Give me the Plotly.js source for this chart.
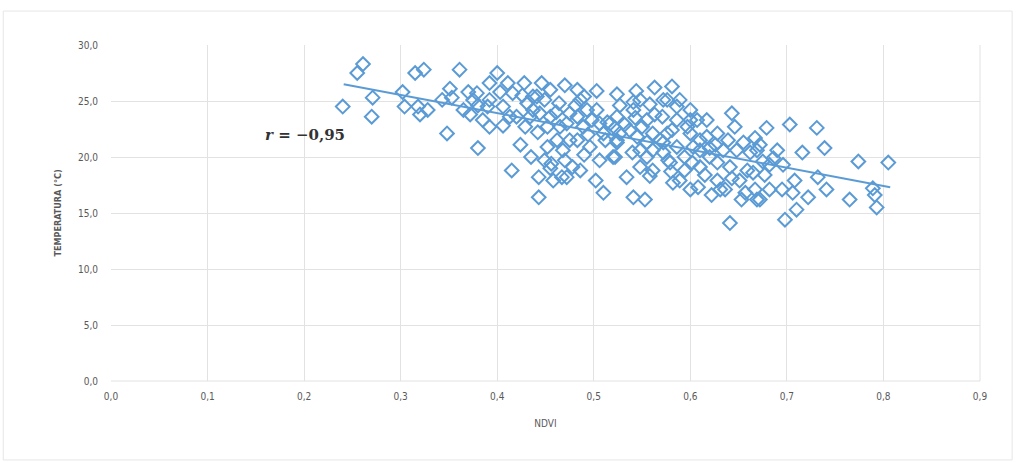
<!DOCTYPE html>
<html>
<head>
<meta charset="utf-8">
<script src="https://cdn.plot.ly/plotly-3.0.1.min.js"></script>
<style>
  html, body { margin: 0; padding: 0; background: #ffffff; }
  #chart { width: 1016px; height: 462px; }
</style>
</head>
<body>
<div id="chart"></div>
<script>
// NDVI values (x)
const ndvi = [
  0.261, 0.255, 0.240, 0.271, 0.270, 0.315, 0.324, 0.361, 0.302, 0.304,
  0.318, 0.320, 0.328, 0.348, 0.343, 0.351, 0.353, 0.370, 0.365, 0.372,
  0.380, 0.380, 0.400, 0.392, 0.403, 0.411, 0.428, 0.446, 0.379, 0.385,
  0.406, 0.424, 0.415, 0.435, 0.443, 0.443, 0.434, 0.390, 0.406, 0.420,
  0.431, 0.464, 0.470, 0.490, 0.503, 0.524, 0.544, 0.563, 0.581, 0.452,
  0.462, 0.472, 0.483, 0.456, 0.458, 0.472, 0.478, 0.490, 0.496, 0.506,
  0.502, 0.510, 0.520, 0.514, 0.527, 0.541, 0.558, 0.534, 0.541, 0.553,
  0.548, 0.558, 0.561, 0.576, 0.582, 0.580, 0.576, 0.506, 0.527, 0.545,
  0.483, 0.468, 0.442, 0.475, 0.486, 0.503, 0.517, 0.475, 0.489, 0.455,
  0.467, 0.455, 0.589, 0.541, 0.524, 0.555, 0.571, 0.586, 0.600, 0.617,
  0.643, 0.646, 0.537, 0.561, 0.581, 0.600, 0.610, 0.628, 0.639, 0.655,
  0.667, 0.522, 0.540, 0.555, 0.572, 0.586, 0.594, 0.620, 0.634, 0.648,
  0.662, 0.561, 0.594, 0.610, 0.628, 0.641, 0.659, 0.608, 0.628, 0.643,
  0.631, 0.657, 0.669, 0.641, 0.679, 0.703, 0.731, 0.669, 0.690, 0.716,
  0.739, 0.774, 0.805, 0.675, 0.686, 0.696, 0.665, 0.677, 0.708, 0.732,
  0.667, 0.682, 0.695, 0.706, 0.722, 0.741, 0.672, 0.765, 0.789, 0.791,
  0.793, 0.710, 0.698, 0.375, 0.392, 0.416, 0.441, 0.455, 0.483, 0.493,
  0.510, 0.524, 0.452, 0.437, 0.465, 0.429, 0.413, 0.392, 0.548, 0.572,
  0.550, 0.555, 0.572, 0.603, 0.524, 0.586, 0.597, 0.607, 0.617, 0.620,
  0.602, 0.579, 0.437, 0.444, 0.426, 0.449, 0.461, 0.481, 0.498, 0.512,
  0.532, 0.548, 0.569, 0.577, 0.589, 0.600, 0.615, 0.622, 0.636, 0.651,
  0.653, 0.672, 0.682, 0.543, 0.522, 0.494, 0.470, 0.486, 0.449, 0.610,
  0.626, 0.600, 0.563
];
// Temperature values (y, °C)
const temperatura = [
  28.3, 27.5, 24.5, 25.3, 23.6, 27.5, 27.8, 27.8, 25.8, 24.5,
  24.5, 23.8, 24.2, 22.1, 25.1, 26.1, 25.3, 25.8, 24.2, 23.8,
  20.8, 24.6, 27.5, 26.6, 25.8, 26.6, 26.6, 26.6, 25.7, 23.3,
  22.8, 21.1, 18.8, 20.0, 18.2, 16.4, 23.6, 24.5, 24.5, 23.6,
  24.8, 24.8, 26.4, 25.4, 25.9, 25.6, 25.9, 26.2, 26.3, 22.7,
  21.5, 23.0, 23.6, 19.4, 17.9, 18.2, 19.1, 20.2, 20.9, 19.7,
  17.9, 16.8, 20.0, 23.1, 24.6, 24.9, 24.7, 18.2, 16.4, 16.2,
  19.1, 18.3, 20.6, 22.1, 17.7, 18.7, 25.1, 23.0, 22.1, 21.8,
  21.5, 20.6, 22.2, 23.9, 25.1, 24.2, 23.0, 21.5, 22.7, 23.6,
  18.2, 19.0, 25.1, 24.2, 23.6, 23.3, 23.6, 23.3, 24.2, 23.3,
  23.9, 22.7, 22.4, 22.1, 22.4, 22.1, 21.5, 22.1, 21.5, 21.3,
  21.7, 20.0, 20.4, 20.0, 20.4, 20.9, 20.0, 20.8, 20.6, 20.6,
  20.4, 18.8, 18.8, 19.1, 19.5, 19.1, 18.8, 17.3, 17.9, 18.1,
  17.1, 16.8, 16.2, 14.1, 22.6, 22.9, 22.6, 20.6, 20.6, 20.4,
  20.8, 19.6, 19.5, 19.6, 19.9, 19.3, 18.6, 18.4, 17.9, 18.2,
  17.1, 17.1, 17.1, 16.8, 16.4, 17.1, 16.2, 16.2, 17.2, 16.6,
  15.5, 15.3, 14.4, 25.1, 25.1, 25.7, 25.4, 26.0, 26.0, 24.2,
  22.1, 21.5, 20.9, 24.2, 22.7, 22.7, 23.6, 22.7, 25.1, 25.1,
  22.7, 21.3, 21.3, 20.9, 21.3, 24.5, 22.7, 23.3, 21.8, 20.0,
  19.5, 19.5, 25.4, 23.9, 25.5, 25.1, 24.0, 24.6, 23.3, 21.5,
  22.9, 20.6, 21.5, 19.7, 17.9, 17.1, 18.4, 16.6, 17.1, 17.9,
  16.2, 21.1, 19.3, 23.5, 22.6, 22.0, 19.7, 18.8, 19.7, 20.6,
  21.1, 23.3, 23.8
];
// Linear trend line end points
const trendNdvi = [0.241, 0.807];
const trendTemp = [26.5, 17.3];

const xTicks = [0, 0.1, 0.2, 0.3, 0.4, 0.5, 0.6, 0.7, 0.8, 0.9];
const yTicks = [0, 5, 10, 15, 20, 25, 30];
const xTitle = 'NDVI';
const yTitle = 'TEMPERATURA (°C)';
const corrText = '<i>r</i> = −0,95';

const blue = '#5b9bd5';
const tickFont = {family: 'Liberation Sans Narrow, DejaVu Sans Condensed, Arial, sans-serif', size: 10, color: '#595959'};

const traces = [
  {
    x: ndvi, y: temperatura, type: 'scatter', mode: 'markers',
    marker: {symbol: 'diamond-open', size: 10.5, color: blue, line: {width: 2, color: blue}},
    hoverinfo: 'x+y', showlegend: false
  },
  {
    x: trendNdvi, y: trendTemp, type: 'scatter', mode: 'lines',
    line: {color: blue, width: 2}, hoverinfo: 'skip', showlegend: false
  }
];

const gridColor = '#e2e2e2';
const layout = {
  width: 1016, height: 462,
  margin: {l: 111, r: 36, t: 45, b: 81},
  paper_bgcolor: '#ffffff',
  plot_bgcolor: '#ffffff',
  separators: ',.',
  xaxis: {
    range: [0, 0.9], tickvals: xTicks, tickformat: '.1f',
    showgrid: true, gridcolor: gridColor, gridwidth: 1,
    zeroline: false, showline: false, ticks: '',
    tickfont: tickFont, ticklabelstandoff: 8,
    title: {text: xTitle, font: {family: tickFont.family, size: 10, color: '#595959'}, standoff: 18},
    fixedrange: true
  },
  yaxis: {
    range: [0, 30], tickvals: yTicks, tickformat: '.1f',
    showgrid: true, gridcolor: gridColor, gridwidth: 1,
    zeroline: false, showline: false, ticks: '',
    tickfont: tickFont, ticklabelstandoff: 12,
    title: {text: '<b>' + yTitle + '</b>', font: {family: tickFont.family, size: 9, color: '#595959'}, standoff: 14},
    fixedrange: true
  },
  shapes: [
    {type: 'line', xref: 'paper', yref: 'paper', x0: 1, x1: 1, y0: 0, y1: 1, line: {color: gridColor, width: 1}},
    {type: 'line', xref: 'paper', yref: 'paper', x0: 0, x1: 1, y0: 0, y1: 0, line: {color: gridColor, width: 1}},
    {type: 'rect', xref: 'paper', yref: 'paper', x0: -0.124, x1: 1.037, y0: -0.235, y1: 1.101,
     line: {color: '#e6e6e6', width: 1}, fillcolor: 'rgba(0,0,0,0)', layer: 'below'}
  ],
  annotations: [
    {x: 0.201, y: 22.0, xref: 'x', yref: 'y', text: '<b>' + corrText + '</b>', showarrow: false,
     font: {family: 'DejaVu Serif, Liberation Serif, serif', size: 15, color: '#333333'}}
  ]
};

Plotly.newPlot('chart', traces, layout, {displayModeBar: false, staticPlot: true});
</script>
</body>
</html>
